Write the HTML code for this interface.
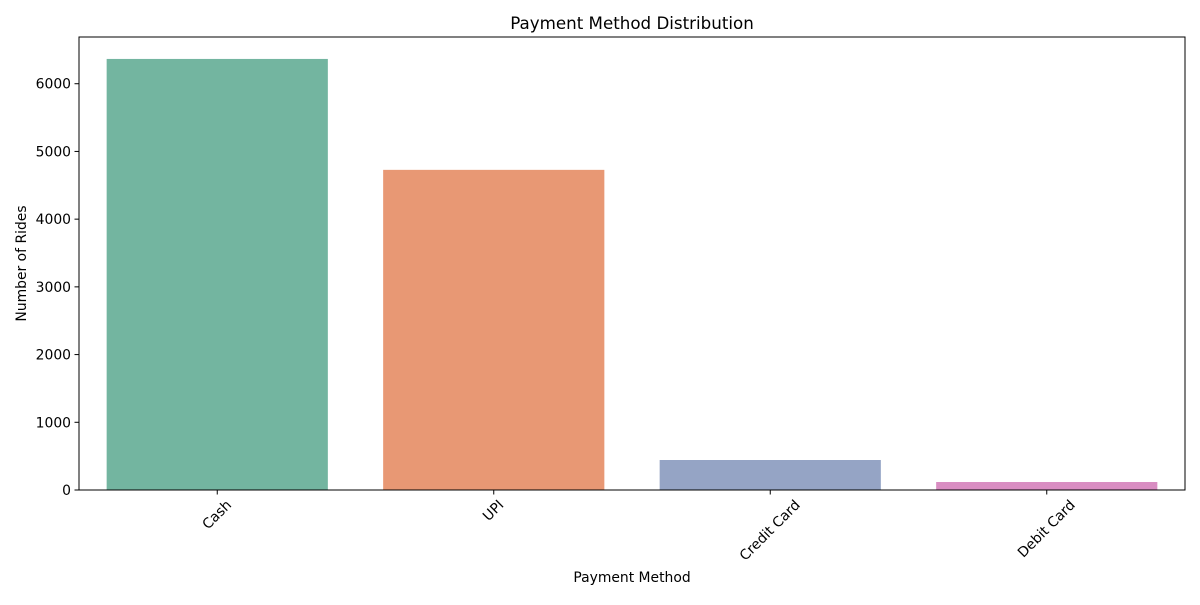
<!DOCTYPE html>
<html><head><meta charset="utf-8"><style>
body{margin:0;background:#fff;}
svg text{font-family:"DejaVu Sans","Liberation Sans",sans-serif;fill:#000;}
</style></head><body>
<svg id="chart" width="1200" height="600" xmlns="http://www.w3.org/2000/svg"></svg>
<script>
const categories = ["Cash","UPI","Credit Card","Debit Card"];
const rides = [6366, 4728, 443, 118];
const yTicks = [0,1000,2000,3000,4000,5000,6000];
const colors = ["#73b5a0","#e89874","#95a4c5","#d98dc2"];

const L=79,R=1185,T=37,B=490,yMax=6690;
const FS=13.9;
const svg=document.getElementById('chart');
const NS='http://www.w3.org/2000/svg';
const y=v=>B-(v/yMax)*(B-T);
const band=(R-L)/categories.length;
const xc=i=>L+band*(i+0.5);
function mk(tag,attrs,txt){const e=document.createElementNS(NS,tag);for(const k in attrs)e.setAttribute(k,attrs[k]);if(txt!==undefined)e.textContent=txt;svg.appendChild(e);return e;}

categories.forEach((c,i)=>{
  const w=band*0.8;
  const r=mk('rect',{x:xc(i)-w/2,y:y(rides[i]),width:w,height:B-y(rides[i]),fill:colors[i]});
  
  
  const t=mk('line',{x1:xc(i),x2:xc(i),y1:B,y2:B+4.5,stroke:'#000'});
  
  
  const lab=mk('text',{x:0,y:0,'font-size':FS,'text-anchor':'middle','dominant-baseline':'central'},c);
  
  
  const len=lab.getComputedTextLength();
  const h=(len+FS*1.0)*0.7071;
  const cx=xc(i), cy=B+8+h/2;
  lab.setAttribute('x',cx);lab.setAttribute('y',cy);
  lab.setAttribute('transform',`rotate(-45 ${cx} ${cy})`);
});
yTicks.forEach(v=>{
  const t=mk('line',{x1:L-4.5,x2:L,y1:y(v),y2:y(v),stroke:'#000'});
  
  
  const lab=mk('text',{x:L-8,y:y(v)+5,'font-size':FS,'text-anchor':'end'},v);
  
  
});
const frame=mk('rect',{x:L,y:T,width:R-L,height:B-T,fill:'none',stroke:'#000','stroke-width':1});


const title=mk('text',{x:(L+R)/2,y:29,'font-size':16.7,'text-anchor':'middle'},'Payment Method Distribution');


const xt=mk('text',{x:(L+R)/2,y:582,'font-size':FS,'text-anchor':'middle'},'Payment Method');


const yt=mk('text',{x:26,y:(T+B)/2,'font-size':FS,'text-anchor':'middle',transform:`rotate(-90 26 ${(T+B)/2})`},'Number of Rides');


</script>
</body></html>
